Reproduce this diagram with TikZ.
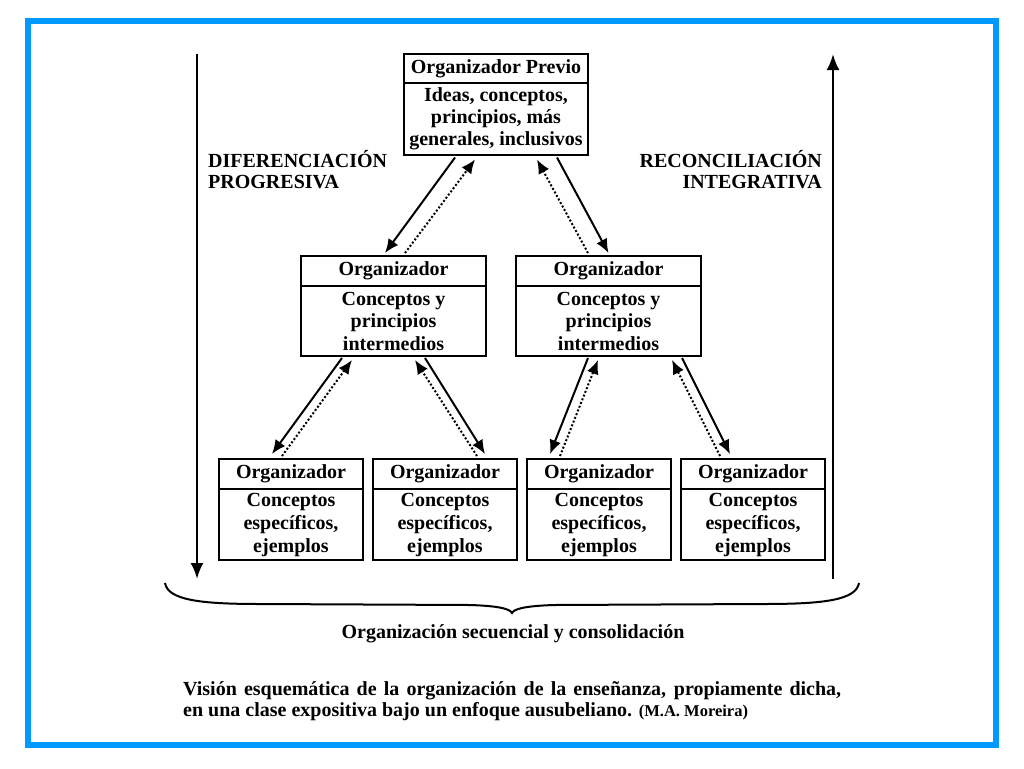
\documentclass[tikz,border=0pt]{standalone}
\usepackage{fontspec}
\setmainfont{Liberation Serif}
\usetikzlibrary{arrows.meta,calc}
\definecolor{frameblue}{RGB}{0,153,255}
\newcommand\myfs[2]{\fontsize{#1}{#2}\selectfont}
\begin{document}
\begin{tikzpicture}[x=1pt,y=-1pt,
  box/.style={draw, line width=2pt, inner sep=0pt, outer sep=0pt, align=center, font=\bfseries\myfs{20}{22}},
  hdr/.style={box, minimum height=30pt},
  lbl/.style={inner sep=0pt, font=\bfseries\myfs{20}{21}},
  solidarr/.style={line width=2pt, -{Latex[length=14pt,width=12pt]}},
  dotarr/.style={line width=2pt, dotted, -{Latex[length=14pt,width=12pt]}},
  bigarr/.style={line width=2.5pt, -{Latex[length=16pt,width=13pt]}}
]
\useasboundingbox (0,0) rectangle (1024,768);
\fill[white] (0,0) rectangle (1024,768);
\draw[line width=6pt, frameblue] (28,21) rectangle (996,745);

% top box
\node[hdr, minimum width=184pt, minimum height=28pt] (th) at (496,68.5) {Organizador Previo};
\node[box, minimum width=184pt, minimum height=72pt, anchor=north] (tb) at (th.south) {Ideas, conceptos,\\principios, más\\generales, inclusivos};

% middle boxes
\node[hdr, minimum width=185pt] (mlh) at (393.5,271) {Organizador};
\node[box, minimum width=185pt, minimum height=70pt, anchor=north, font=\bfseries\myfs{20}{22.5}] (mlb) at (mlh.south) {Conceptos y\\principios\\intermedios};
\node[hdr, minimum width=185pt] (mrh) at (608.5,271) {Organizador};
\node[box, minimum width=185pt, minimum height=70pt, anchor=north, font=\bfseries\myfs{20}{22.5}] (mrb) at (mrh.south) {Conceptos y\\principios\\intermedios};

% bottom boxes
\foreach \i/\x in {1/291,2/445,3/599,4/753}{
  \node[hdr, minimum width=144pt] (b\i h) at (\x,474) {Organizador};
  \node[box, minimum width=144pt, minimum height=71pt, anchor=north, font=\bfseries\myfs{20}{23}] (b\i b) at (b\i h.south) {Conceptos\\específicos,\\ejemplos};
}

% arrows top -> middle
\draw[solidarr] ([xshift=-41pt,yshift=-3pt]tb.south) -- ([xshift=-8.5pt,yshift=3pt]mlh.north);
\draw[dotarr] ([xshift=11.5pt,yshift=3pt]mlh.north) -- ([xshift=-21pt,yshift=-5pt]tb.south);
\draw[dotarr] ([xshift=-20.5pt,yshift=3pt]mrh.north) -- ([xshift=41pt,yshift=-5pt]tb.south);
\draw[solidarr] ([xshift=61pt,yshift=-3pt]tb.south) -- ([xshift=0pt,yshift=3pt]mrh.north);

% arrows middle-left -> bottom
\draw[solidarr] ([xshift=-51.5pt,yshift=-2pt]mlb.south) -- ([xshift=-19pt,yshift=5pt]b1h.north);
\draw[dotarr] ([xshift=-9pt,yshift=3pt]b1h.north) -- ([xshift=-41.5pt,yshift=-4pt]mlb.south);
\draw[dotarr] ([xshift=32pt,yshift=3pt]b2h.north) -- ([xshift=21.5pt,yshift=-4pt]mlb.south);
\draw[solidarr] ([xshift=31.5pt,yshift=-2pt]mlb.south) -- ([xshift=40pt,yshift=5pt]b2h.north);

% arrows middle-right -> bottom
\draw[solidarr] ([xshift=-20.5pt,yshift=-2pt]mrb.south) -- ([xshift=-49pt,yshift=5pt]b3h.north);
\draw[dotarr] ([xshift=-39pt,yshift=3pt]b3h.north) -- ([xshift=-10.5pt,yshift=-4pt]mrb.south);
\draw[dotarr] ([xshift=-33pt,yshift=3pt]b4h.north) -- ([xshift=63.5pt,yshift=-4pt]mrb.south);
\draw[solidarr] ([xshift=73.5pt,yshift=-2pt]mrb.south) -- ([xshift=-23pt,yshift=5pt]b4h.north);

% big vertical arrows
\coordinate (lt) at (197,54);
\coordinate (lb) at (197,579);
\coordinate (rt) at (833,54);
\coordinate (rb) at (833,579);
\draw[bigarr] (lt) -- (lb);
\draw[bigarr] (rb) -- (rt);

% side labels
\node[lbl, anchor=base west] (d1) at (208,167) {DIFERENCIACIÓN};
\node[lbl, anchor=base west] (d2) at (208,188) {PROGRESIVA};
\node[lbl, anchor=base east] (r1) at (822,167) {RECONCILIACIÓN};
\node[lbl, anchor=base east] (r2) at (822,188) {INTEGRATIVA};

% brace
\draw[line width=2pt] (165,583) .. controls (168,600) and (200,604) .. (260,604) -- (470,605) .. controls (500,606) and (510,609) .. (512,613)
  .. controls (514,609) and (524,606) .. (554,605) -- (764,604) .. controls (824,604) and (856,600) .. (859,583);

\node[lbl, anchor=base] (sub) at (513,638) {Organización secuencial y consolidación};

% caption
\node[anchor=base west, text width=658pt, align=justify, inner sep=0pt, font=\bfseries\myfs{20}{21}] (cap) at (183,695)
 {Visión esquemática de la organización de la enseñanza, propiamente dicha,\linebreak en una clase expositiva bajo un enfoque ausubeliano. {\myfs{16.5}{21}(M.A. Moreira)}};
\end{tikzpicture}
\end{document}
